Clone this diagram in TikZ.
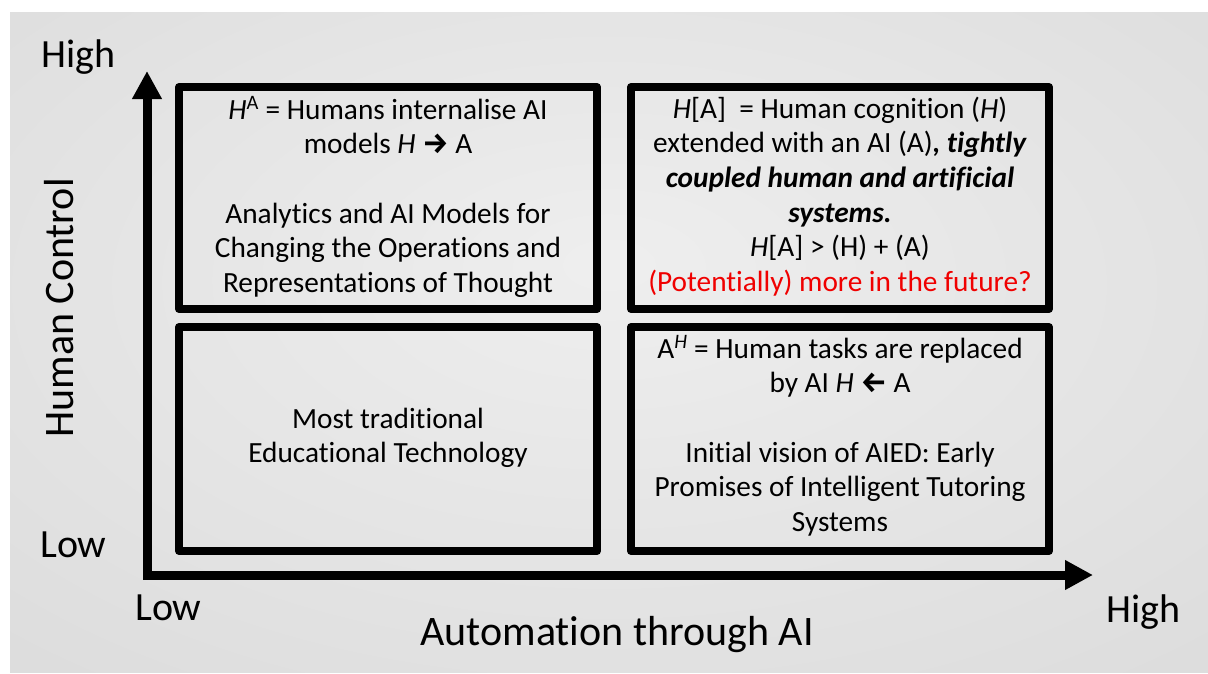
\documentclass[tikz,border=0pt]{standalone}
\usepackage{fontspec}
\setmainfont{Carlito}[Ligatures=NoCommon]
\newfontfamily\arrowfont{Fira Sans}
\usetikzlibrary{arrows.meta}
\definecolor{bgcA}{gray}{0.935}
\definecolor{bgcB}{gray}{0.86}
\definecolor{bgcC}{gray}{0.76}
\definecolor{futurered}{RGB}{240,0,0}
\pgfdeclareradialshading{bgshade}{\pgfpoint{0bp}{6bp}}{color(0bp)=(bgcA); color(40bp)=(bgcB); color(75bp)=(bgcC)}
\newcommand\boxpar[1]{\parbox[t]{420pt}{\centering\fontsize{29.3}{34.7}\selectfont #1}}
\newcommand\rarr{{\arrowfont\bfseries →}}
\newcommand\larr{{\arrowfont\bfseries ←}}
\begin{document}
\begin{tikzpicture}[x=1pt,y=-1pt]
\tikzset{
 quad/.style={draw=black, line width=8pt, line join=round, inner sep=0pt},
 axis/.style={line width=9pt, line join=miter, {Triangle[width=28pt,length=28pt]}-{Triangle[width=28pt,length=28pt]}},
 axlabel/.style={font=\fontsize{40}{48}\selectfont, inner sep=0pt, anchor=base west},
 bigtitle/.style={font=\fontsize{42}{50}\selectfont, inner sep=0pt, anchor=base},
 boxtext/.style={inner sep=0pt, anchor=base},
}
\useasboundingbox (0,0) rectangle (1208,673);
\fill[white] (0,0) rectangle (1208,673);
\shade[shading=bgshade] (10,12) rectangle (1208,672);
% quadrant boxes
\node[quad, minimum width=418pt, minimum height=222pt] (tl) at (388,198) {};
\node[quad, minimum width=418pt, minimum height=222pt] (tr) at (840,198) {};
\node[quad, minimum width=418pt, minimum height=224pt] (bl) at (388,439) {};
\node[quad, minimum width=418pt, minimum height=224pt] (br) at (840,439) {};
% axes
\coordinate (ytip) at (147,71);
\coordinate (origin) at (147,575);
\coordinate (xtip) at (1093,575);
\draw[axis] (ytip) -- (origin) -- (xtip);
% axis labels
\node[axlabel] (yhigh) at (41,67) {High};
\node[axlabel] (ylow) at (40,557) {Low};
\node[axlabel] (xlow) at (135,620) {Low};
\node[axlabel] (xhigh) at (1106,622) {High};
\node[bigtitle] (xlabel) at (617,645) {Automation through AI};
\node[bigtitle, rotate=90] (ylabel) at (73,308) {Human Control};
% box texts
\node[boxtext] (tltext) at (388,119) {\boxpar{\textit{H}\textsuperscript{A} = Humans internalise AI\\
models \textit{H} \rarr{} A\\ \mbox{}\\
Analytics and AI Models for\\
Changing the Operations and\\
Representations of Thought}};
\node[boxtext] (trtext) at (840,118) {\boxpar{\textit{H}[A]\ \ = Human cognition (\textit{H})\\
extended with an AI (A)\textbf{\textit{, tightly}}\\
\textbf{\textit{coupled human and artificial}}\\
\textbf{\textit{systems.}}\\
\textit{H}[A] > (H) + (A)\\
\textcolor{futurered}{(Potentially) more in the future?}}};
\node[boxtext] (bltext) at (388,428) {\boxpar{Most traditional\\
Educational Technology}};
\node[boxtext] (brtext) at (840,358) {\boxpar{A\textsuperscript{\textit{H}} = Human tasks are replaced\\
by AI \textit{H} \larr{} A\\ \mbox{}\\
Initial vision of AIED: Early\\
Promises of Intelligent Tutoring\\
Systems}};
\end{tikzpicture}
\end{document}
